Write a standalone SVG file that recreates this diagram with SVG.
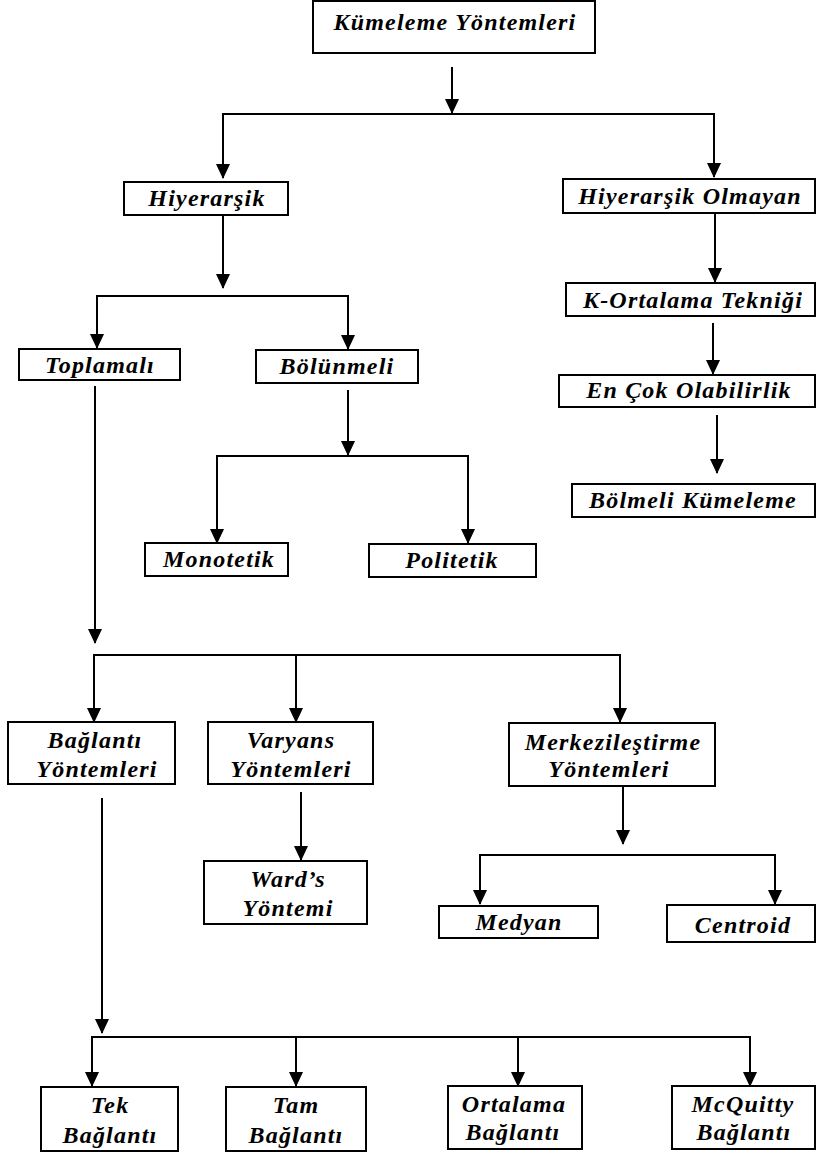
<svg xmlns="http://www.w3.org/2000/svg" width="816" height="1153" viewBox="0 0 816 1153">
<style>
.box{fill:#fff;stroke:#000;stroke-width:2}
.t{font-family:"Liberation Serif","Times New Roman",serif;font-weight:bold;font-style:italic;font-size:24px;letter-spacing:1.2px;text-anchor:middle;fill:#000}
.c{fill:none;stroke:#000;stroke-width:2}
.a{fill:none;stroke:#000;stroke-width:2;marker-end:url(#ah)}
</style>
<defs>
<marker id="ah" markerUnits="userSpaceOnUse" viewBox="0 0 15 14" refX="14" refY="7" markerWidth="15" markerHeight="14" orient="auto">
<path d="M0,0 L15,7 L0,14 z" fill="#000"/>
</marker>
</defs>
<rect width="816" height="1153" fill="#fff"/>
<g id="connectors">
<line class="a" x1="452" y1="67" x2="452" y2="113"/>
<polyline class="c" points="223,160 223,114 714,114 714,160"/>
<line class="a" x1="223" y1="114" x2="223" y2="178"/>
<line class="a" x1="714" y1="114" x2="714" y2="177"/>
<line class="a" x1="223" y1="215" x2="223" y2="288"/>
<polyline class="c" points="97,330 97,296 348,296 348,330"/>
<line class="a" x1="97" y1="296" x2="97" y2="348"/>
<line class="a" x1="348" y1="296" x2="348" y2="349"/>
<line class="a" x1="715" y1="213" x2="715" y2="282"/>
<line class="a" x1="713" y1="323" x2="713" y2="374"/>
<line class="a" x1="717" y1="415" x2="717" y2="473"/>
<line class="a" x1="348" y1="390" x2="348" y2="455"/>
<polyline class="c" points="217,500 217,456 468,456 468,500"/>
<line class="a" x1="217" y1="456" x2="217" y2="543"/>
<line class="a" x1="468" y1="456" x2="468" y2="543"/>
<line class="a" x1="95" y1="386" x2="95" y2="643"/>
<polyline class="c" points="94,700 94,655 620,655 620,700"/>
<line class="a" x1="94" y1="655" x2="94" y2="722"/>
<line class="a" x1="296" y1="655" x2="296" y2="722"/>
<line class="a" x1="620" y1="655" x2="620" y2="722"/>
<line class="a" x1="301" y1="792" x2="301" y2="860"/>
<line class="a" x1="623" y1="786" x2="623" y2="844"/>
<polyline class="c" points="480,880 480,855 775,855 775,880"/>
<line class="a" x1="480" y1="855" x2="480" y2="904"/>
<line class="a" x1="775" y1="855" x2="775" y2="904"/>
<line class="a" x1="102" y1="798" x2="102" y2="1033"/>
<polyline class="c" points="92,1060 92,1037 750,1037 750,1060"/>
<line class="a" x1="92" y1="1037" x2="92" y2="1086"/>
<line class="a" x1="296" y1="1037" x2="296" y2="1086"/>
<line class="a" x1="518" y1="1037" x2="518" y2="1086"/>
<line class="a" x1="750" y1="1037" x2="750" y2="1086"/>
</g>
<g id="n-kumeleme"><rect class="box" x="313" y="1" width="282" height="52"/><text class="t" x="455" y="30">Kümeleme Yöntemleri</text></g>
<g id="n-hiyerarsik"><rect class="box" x="124" y="182" width="164" height="33"/><text class="t" x="207" y="206">Hiyerarşik</text></g>
<g id="n-hiyerarsik-olmayan"><rect class="box" x="563" y="179" width="252" height="34"/><text class="t" x="690" y="204">Hiyerarşik Olmayan</text></g>
<g id="n-kortalama"><rect class="box" x="566" y="283" width="249" height="33"/><text class="t" x="693" y="308">K-Ortalama Tekniği</text></g>
<g id="n-encok"><rect class="box" x="559" y="375" width="256" height="32"/><text class="t" x="689" y="398">En Çok Olabilirlik</text></g>
<g id="n-bolmeli"><rect class="box" x="572" y="484" width="243" height="33"/><text class="t" x="693" y="508">Bölmeli Kümeleme</text></g>
<g id="n-toplamali"><rect class="box" x="19" y="349" width="161" height="31"/><text class="t" x="100" y="373">Toplamalı</text></g>
<g id="n-bolunmeli"><rect class="box" x="256" y="350" width="162" height="33"/><text class="t" x="337" y="374">Bölünmeli</text></g>
<g id="n-monotetik"><rect class="box" x="145" y="543" width="143" height="33"/><text class="t" x="219" y="567">Monotetik</text></g>
<g id="n-politetik"><rect class="box" x="369" y="544" width="167" height="33"/><text class="t" x="452" y="568">Politetik</text></g>
<g id="n-baglanti"><rect class="box" x="8" y="722" width="167" height="62"/><text class="t" x="95" y="748">Bağlantı</text><text class="t" x="97" y="777">Yöntemleri</text></g>
<g id="n-varyans"><rect class="box" x="208" y="722" width="165" height="62"/><text class="t" x="291" y="748">Varyans</text><text class="t" x="291" y="777">Yöntemleri</text></g>
<g id="n-merkez"><rect class="box" x="509" y="723" width="206" height="63"/><text class="t" x="613" y="750">Merkezileştirme</text><text class="t" x="609" y="777">Yöntemleri</text></g>
<g id="n-ward"><rect class="box" x="204" y="861" width="163" height="63"/><text class="t" x="288" y="887">Ward’s</text><text class="t" x="288" y="916">Yöntemi</text></g>
<g id="n-medyan"><rect class="box" x="439" y="906" width="159" height="32"/><text class="t" x="519" y="930">Medyan</text></g>
<g id="n-centroid"><rect class="box" x="667" y="905" width="148" height="37"/><text class="t" x="743" y="933">Centroid</text></g>
<g id="n-tek"><rect class="box" x="41" y="1087" width="137" height="64"/><text class="t" x="110" y="1113">Tek</text><text class="t" x="110" y="1143">Bağlantı</text></g>
<g id="n-tam"><rect class="box" x="226" y="1087" width="140" height="64"/><text class="t" x="296" y="1113">Tam</text><text class="t" x="296" y="1143">Bağlantı</text></g>
<g id="n-ortalama"><rect class="box" x="448" y="1086" width="134" height="63"/><text class="t" x="514" y="1112">Ortalama</text><text class="t" x="513" y="1140">Bağlantı</text></g>
<g id="n-mcquitty"><rect class="box" x="672" y="1086" width="143" height="63"/><text class="t" x="743" y="1112">McQuitty</text><text class="t" x="744" y="1140">Bağlantı</text></g>
</svg>
